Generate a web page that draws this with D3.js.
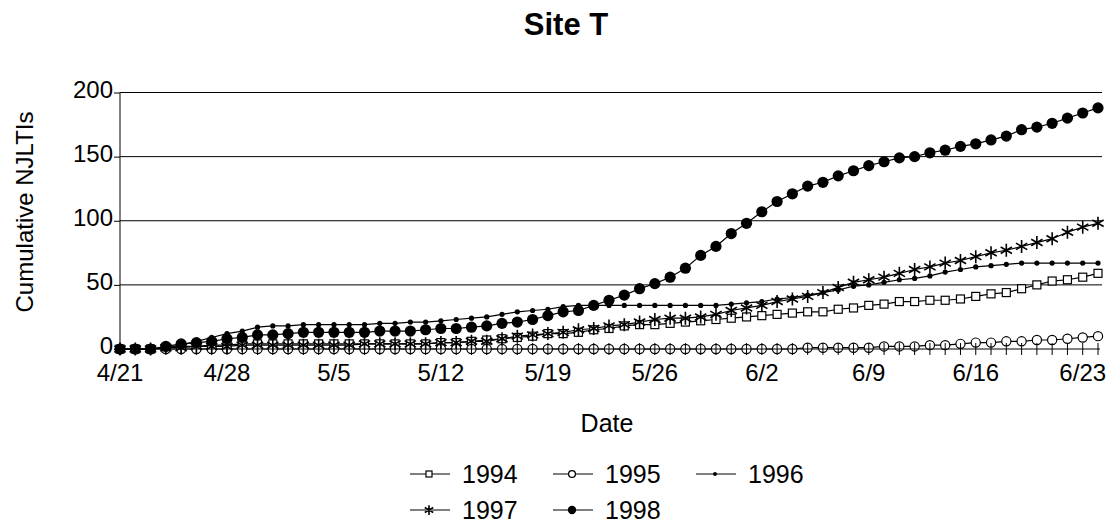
<!DOCTYPE html>
<html>
<head>
<meta charset="utf-8">
<script src="https://cdn.jsdelivr.net/npm/d3@7"></script>
<style>
  body { margin: 0; background: #fff; }
  text { font-family: "Liberation Sans", Arial, sans-serif; fill: #000; }
</style>
</head>
<body>
<div id="chart"></div>
<script>
// days from 4/21 to 6/24
var days = d3.timeDay.range(new Date(1998, 3, 21), new Date(1998, 5, 25));
var tickLabels = ["4/21", "4/28", "5/5", "5/12", "5/19", "5/26", "6/2", "6/9", "6/16", "6/23"];
var yTicks = [0, 50, 100, 150, 200];

var s1994 = [0,0,0,1,2,2,3,3,4,4,4,4,4,4,4,4,4,4,4,4,4,5,5,6,7,8,9,10,12,12,13,15,16,18,19,19,20,21,22,23,24,25,26,27,28,29,29,31,32,34,35,37,37,38,38,39,41,43,44,47,50,53,54,56,59];
var s1995 = [0,0,0,0,0,0,0,0,0,0,0,0,0,0,0,0,0,0,0,0,0,0,0,0,0,0,0,0,0,0,0,0,0,0,0,0,0,0,0,0,0,0,0,0,0,1,1,1,1,1,2,2,2,3,3,4,5,5,6,6,7,7,8,9,10];
var s1996 = [0,0,0,1,3,6,9,12,14,17,18,18,19,19,19,19,19,20,20,21,21,22,23,24,25,27,29,30,31,33,34,34,34,34,34,34,34,34,34,34,35,36,37,39,40,42,44,46,49,50,52,54,55,57,60,62,64,65,66,67,67,67,67,67,67];
var s1997 = [0,0,0,1,1,2,2,2,3,3,3,3,3,3,3,3,4,4,4,4,4,5,5,6,6,8,10,11,12,13,15,16,18,19,21,23,24,24,25,27,30,32,34,37,39,41,44,48,52,54,56,59,62,64,67,69,72,75,77,80,83,86,91,95,98];
var s1998 = [0,0,0,2,4,5,6,8,9,11,11,12,13,13,13,13,13,14,14,14,15,16,16,17,18,20,21,23,26,29,30,34,38,42,47,51,56,63,73,80,90,98,107,115,121,127,130,135,139,143,146,149,150,153,155,158,160,163,166,171,173,176,180,184,188];

var seriesNames = ["1994", "1995", "1996", "1997", "1998"];
var seriesValues = [s1994, s1995, s1996, s1997, s1998];

var width = 1115, height = 527;

var svg = d3.select("#chart")
  .append("svg")
    .attr("width", width)
    .attr("height", height);

var x = d3.scaleLinear()
  .domain([0, days.length - 1])
  .range([120, 1098]);

var y = d3.scaleLinear()
  .domain([0, 200])
  .range([349, 92.5]);

// marker shapes
var star = function(r) {
  var a = r * 0.87, b = r * 0.5;
  return "M0," + (-r) + "L0," + r +
         "M" + (-a) + "," + (-b) + "L" + a + "," + b +
         "M" + (-a) + "," + b + "L" + a + "," + (-b);
};
var markers = [
  function(g, s) { g.append("rect").attr("x", -s * 4).attr("y", -s * 4).attr("width", s * 8).attr("height", s * 8)
                     .attr("fill", "#fff").attr("stroke", "#000").attr("stroke-width", 1.2); },
  function(g, s) { g.append("circle").attr("r", s * 4.6).attr("fill", "#fff").attr("stroke", "#000").attr("stroke-width", 1.2); },
  function(g, s) { g.append("circle").attr("r", s * 2.6).attr("fill", "#000"); },
  function(g, s) { g.append("path").attr("d", star(s * 6.5)).attr("stroke", "#000").attr("stroke-width", 1.6).attr("fill", "none"); },
  function(g, s) { g.append("circle").attr("r", s * 5.6).attr("fill", "#000"); }
];

// title
svg.append("text")
  .attr("x", 566)
  .attr("y", 35)
  .attr("text-anchor", "middle")
  .style("font-size", "31px")
  .style("font-weight", "bold")
  .text("Site T");

// gridlines
svg.append("g")
  .selectAll("line")
  .data(yTicks.slice(1))
  .enter()
  .append("line")
    .attr("x1", x(0))
    .attr("x2", 1102)
    .attr("y1", function(d) { return y(d); })
    .attr("y2", function(d) { return y(d); })
    .attr("stroke", "#000")
    .attr("stroke-width", 1);

// y axis
var yAxis = svg.append("g")
  .attr("transform", "translate(" + x(0) + ",0)")
  .call(d3.axisLeft(y).tickValues(yTicks).tickSize(6).tickPadding(1));
yAxis.select(".domain").attr("stroke", "#000").attr("d", "M0," + y(200) + "V" + (y(0) + 6));
yAxis.selectAll("text").style("font-size", "24px").attr("fill", "#000").attr("dy", "0.2em");

svg.append("text")
  .attr("transform", "translate(33,212) rotate(-90)")
  .attr("text-anchor", "middle")
  .style("font-size", "24px")
  .text("Cumulative NJLTIs");

// series lines and markers
var line = d3.line()
  .x(function(d, i) { return x(i); })
  .y(function(d) { return y(d); });

seriesValues.forEach(function(vals, k) {
  svg.append("path")
    .datum(vals)
    .attr("d", line)
    .attr("fill", "none")
    .attr("stroke", "#000")
    .attr("stroke-width", 1.2);
});

seriesValues.forEach(function(vals, k) {
  svg.append("g")
    .selectAll("g")
    .data(vals)
    .enter()
    .append("g")
      .attr("transform", function(d, i) { return "translate(" + x(i) + "," + y(d) + ")"; })
      .each(function() { markers[k](d3.select(this), 1); });
});

// x axis on top, cross ticks every day
var xg = svg.append("g");
xg.append("line")
  .attr("x1", x(0)).attr("x2", 1100)
  .attr("y1", y(0)).attr("y2", y(0))
  .attr("stroke", "#000");
xg.selectAll(".tk")
  .data(days)
  .enter()
  .append("line")
    .attr("x1", function(d, i) { return x(i); })
    .attr("x2", function(d, i) { return x(i); })
    .attr("y1", y(0) - 6)
    .attr("y2", y(0) + 6)
    .attr("stroke", "#000");
xg.selectAll(".lbl")
  .data(tickLabels)
  .enter()
  .append("text")
    .attr("x", function(d, i) { return x(i * 7); })
    .attr("y", 381)
    .attr("text-anchor", "middle")
    .style("font-size", "24px")
    .text(function(d) { return d; });

svg.append("text")
  .attr("x", 607)
  .attr("y", 432)
  .attr("text-anchor", "middle")
  .style("font-size", "25px")
  .text("Date");

// legend
var legend = svg.append("g");
seriesNames.forEach(function(name, k) {
  var col = k % 3, row = Math.floor(k / 3);
  var lx = 410 + col * 143, ly = 474 + row * 36;
  var item = legend.append("g").attr("transform", "translate(" + lx + "," + ly + ")");
  item.append("line").attr("x1", 0).attr("x2", 40).attr("y1", 0).attr("y2", 0).attr("stroke", "#000").attr("stroke-width", 1.2);
  markers[k](item.append("g").attr("transform", "translate(19,0)"), 0.75);
  item.append("text")
    .attr("x", 52)
    .attr("y", 9)
    .style("font-size", "25px")
    .text(name);
});
</script>
</body>
</html>
